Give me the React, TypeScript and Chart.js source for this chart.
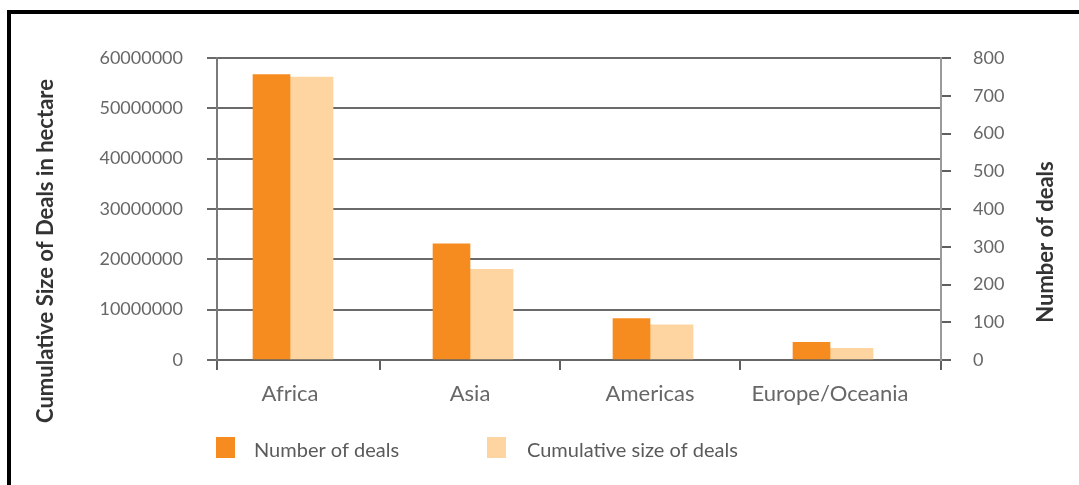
import React, { useEffect, useRef } from 'react';
import { Chart, registerables } from 'chart.js';

Chart.register(...registerables);

// ---- data ----
const categories = ['Africa', 'Asia', 'Americas', 'Europe/Oceania'];
const numberOfDeals = [756, 308, 110, 47];
const cumulativeSize = [56200000, 18000000, 7000000, 2300000];
const seriesLabels = ['Number of deals', 'Cumulative size of deals'];
const leftAxisTitle = 'Cumulative Size of Deals in hectare';
const rightAxisTitle = 'Number of deals';
const leftAxisMax = 60000000;
const leftAxisStep = 10000000;
const rightAxisMax = 800;
const rightAxisStep = 100;
const categoryBoundaries = [0.5, 1.5, 2.5];

// ---- styling / layout ----
const FONT = 'Lato';
const DARK = '#F68B1F';
const LIGHT = '#FED5A1';
const X_MIN = -73 / 180;
const X_MAX = X_MIN + 724 / 180;

const decorPlugin = {
  id: 'decor',
  afterDraw(chart: any) {
    const { ctx } = chart;
    ctx.save();
    ctx.font = `bold 22px ${FONT}`;
    ctx.fillStyle = '#333333';
    ctx.textAlign = 'center';
    ctx.textBaseline = 'alphabetic';
    ctx.save();
    ctx.translate(53, 251);
    ctx.rotate(-Math.PI / 2);
    ctx.fillText(leftAxisTitle, 0, 0);
    ctx.restore();
    ctx.save();
    ctx.translate(1053, 242);
    ctx.rotate(-Math.PI / 2);
    ctx.fillText(rightAxisTitle, 0, 0);
    ctx.restore();

    const spots = [
      { box: 216, text: 254 },
      { box: 487, text: 527 },
    ];
    chart.data.datasets.forEach((ds: any, i: number) => {
      const s = spots[i];
      ctx.fillStyle = ds.backgroundColor;
      ctx.fillRect(s.box, 437, 19, 21);
      ctx.fillStyle = '#5a5a5a';
      ctx.font = `20px ${FONT}`;
      ctx.textAlign = 'left';
      ctx.textBaseline = 'alphabetic';
      ctx.fillText(ds.label, s.text, 457);
    });
    ctx.restore();
  },
};

export default function App() {
  const canvasRef = useRef<HTMLCanvasElement | null>(null);

  useEffect(() => {
    document.body.style.margin = '0';
    const canvas = canvasRef.current;
    if (!canvas) return;
    const xTicks = [X_MIN, ...categories.map((_, i) => i), ...categoryBoundaries, X_MAX].sort(
      (a, b) => a - b
    );
    const chart = new Chart(canvas, {
      type: 'bar',
      data: {
        datasets: [
          {
            label: seriesLabels[0],
            data: categories.map((_, i) => ({ x: i, y: numberOfDeals[i] })),
            backgroundColor: DARK,
            borderWidth: 0,
            barThickness: 37,
            yAxisID: 'y1',
            xAxisID: 'x',
          },
          {
            label: seriesLabels[1],
            data: categories.map((_, i) => ({ x: i, y: cumulativeSize[i] })),
            backgroundColor: LIGHT,
            borderWidth: 0,
            barThickness: 43,
            yAxisID: 'y',
            xAxisID: 'x',
          },
        ],
      },
      options: {
        responsive: false,
        animation: false,
        layout: { padding: { top: 58, left: 0, right: 0, bottom: 0 } },
        plugins: {
          legend: { display: false },
          tooltip: { enabled: false },
        },
        scales: {
          x: {
            type: 'linear',
            bounds: 'data',
            offset: false,
            min: X_MIN,
            max: X_MAX,
            afterBuildTicks: (scale: any) => {
              scale.ticks = xTicks.map((v) => ({ value: v }));
            },
            afterFit: (scale: any) => {
              scale.height = 125;
            },
            ticks: {
              autoSkip: false,
              maxRotation: 0,
              minRotation: 0,
              padding: 11,
              color: '#676767',
              font: { family: FONT, size: 22 },
              callback: (v: any) => (Number.isInteger(v) ? categories[v] : ''),
            },
            grid: {
              offset: false,
              drawOnChartArea: false,
              tickLength: 10,
              lineWidth: 2,
              tickColor: (c: any) =>
                c.tick && Number.isInteger(c.tick.value) ? 'rgba(0,0,0,0)' : '#5f5f5f',
            },
            border: { color: '#666666', width: 2 },
          },
          y: {
            position: 'left',
            min: 0,
            max: leftAxisMax,
            afterFit: (scale: any) => {
              scale.width = 217;
            },
            ticks: {
              stepSize: leftAxisStep,
              padding: 24,
              color: '#676767',
              font: { family: FONT, size: 18 },
              callback: (v: any) => String(v),
            },
            grid: { color: '#6a6a6a', lineWidth: 2, tickLength: 10 },
            border: { color: '#7a7a7a', width: 2 },
          },
          y1: {
            position: 'right',
            min: 0,
            max: rightAxisMax,
            afterFit: (scale: any) => {
              scale.width = 1079 - 941;
            },
            ticks: {
              stepSize: rightAxisStep,
              padding: 22,
              color: '#676767',
              font: { family: FONT, size: 18 },
              callback: (v: any) => String(v),
            },
            grid: { drawOnChartArea: false, color: '#5f5f5f', lineWidth: 2, tickLength: 10 },
            border: { color: '#9a9a9a', width: 2 },
          },
        },
      } as any,
      plugins: [decorPlugin],
    });
    return () => chart.destroy();
  }, []);

  return (
    <div style={{ position: 'relative', width: 1079, height: 485, overflow: 'hidden', background: '#fff' }}>
      <div
        style={{
          position: 'absolute',
          left: 7,
          top: 10,
          width: 1200,
          height: 600,
          borderLeft: '4px solid #000',
          borderTop: '4px solid #000',
          boxSizing: 'border-box',
        }}
      />
      <canvas
        ref={canvasRef}
        width={1079}
        height={485}
        style={{ position: 'absolute', left: 0, top: 0, width: 1079, height: 485 }}
      />
    </div>
  );
}
